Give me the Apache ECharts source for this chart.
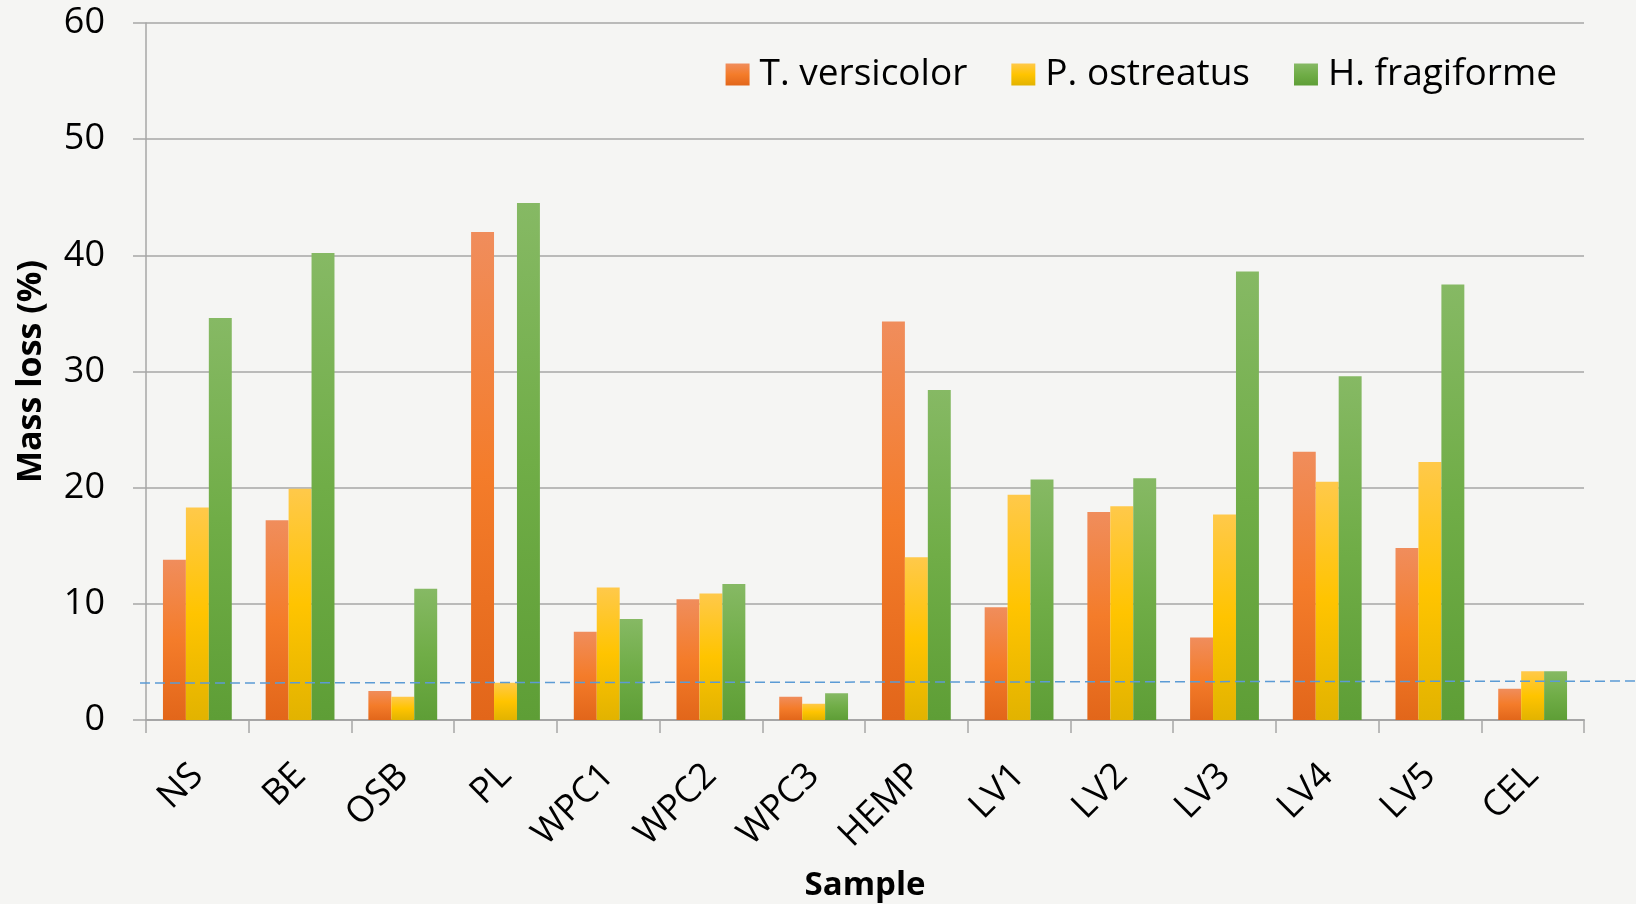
<!DOCTYPE html>
<html>
<head>
<meta charset="utf-8">
<title>Mass loss by sample</title>
<script src="https://cdn.jsdelivr.net/npm/echarts@6/dist/echarts.min.js"></script>
<style>
  html, body { margin: 0; padding: 0; background: #F5F5F3; }
  #chart { width: 1636px; height: 904px; }
</style>
</head>
<body>
<div id="chart"></div>
<script>
// Sample categories
const categories = ['NS', 'BE', 'OSB', 'PL', 'WPC1', 'WPC2', 'WPC3', 'HEMP', 'LV1', 'LV2', 'LV3', 'LV4', 'LV5', 'CEL'];

// Mass loss (%) per fungus
const tVersicolor = [13.8, 17.2, 2.5, 42.0, 7.6, 10.4, 2.0, 34.3, 9.7, 17.9, 7.1, 23.1, 14.8, 2.7];
const pOstreatus  = [18.3, 19.9, 2.0, 3.2, 11.4, 10.9, 1.4, 14.0, 19.4, 18.4, 17.7, 20.5, 22.2, 4.2];
const hFragiforme = [34.6, 40.2, 11.3, 44.5, 8.7, 11.7, 2.3, 28.4, 20.7, 20.8, 38.6, 29.6, 37.5, 4.2];

const seriesNames = ['T. versicolor', 'P. ostreatus', 'H. fragiforme'];

// Reference threshold (dashed line), value at its left and right ends
const thresholdLeft = 3.18;
const thresholdRight = 3.35;

const FONT = '"Open Sans", "Noto Sans", sans-serif';

function grad(top, mid, bottom) {
  return new echarts.graphic.LinearGradient(0, 0, 0, 1, [
    { offset: 0, color: top },
    { offset: 0.5, color: mid },
    { offset: 1, color: bottom }
  ]);
}

const fills = [
  grad('#F08D5C', '#F47C2A', '#E2661A'),
  grad('#FFC94A', '#FFC400', '#E2B300'),
  grad('#86B964', '#70AD47', '#5E9E36')
];

const chart = echarts.init(document.getElementById('chart'), null, { renderer: 'canvas' });

const dataSets = [tVersicolor, pOstreatus, hFragiforme];

chart.setOption({
  backgroundColor: '#F5F5F3',
  animation: false,
  textStyle: { fontFamily: FONT, color: '#000' },
  grid: { left: 146, right: 52, top: 23, bottom: 184, containLabel: false, outerBoundsMode: 'none' },
  legend: {
    data: seriesNames,
    right: 74,
    top: 51,
    itemWidth: 24,
    itemHeight: 22,
    itemGap: 44,
    icon: 'rect',
    textStyle: { fontFamily: FONT, fontSize: 37, color: '#000', padding: [0, 0, 0, 5] }
  },
  xAxis: {
    type: 'category',
    data: categories,
    name: 'Sample',
    nameLocation: 'middle',
    nameGap: 149,
    nameTextStyle: { fontFamily: FONT, fontSize: 33, fontWeight: 'bold', color: '#000' },
    axisLine: { show: true, lineStyle: { color: '#A6A6A6', width: 2 } },
    axisTick: { show: true, length: 13, lineStyle: { color: '#A6A6A6', width: 1.5 } },
    axisLabel: { rotate: 45, fontSize: 36, color: '#000', margin: 50, fontFamily: FONT, interval: 0 }
  },
  yAxis: {
    type: 'value',
    min: 0,
    max: 60,
    interval: 10,
    name: 'Mass loss (%)',
    nameLocation: 'middle',
    nameGap: 98,
    nameTextStyle: { fontFamily: FONT, fontSize: 34, fontWeight: 'bold', color: '#000' },
    axisLine: { show: true, lineStyle: { color: '#A6A6A6', width: 1.5 } },
    axisTick: { show: true, length: 13, lineStyle: { color: '#A6A6A6', width: 1.5 } },
    axisLabel: { fontSize: 36, color: '#000', margin: 41, fontFamily: FONT },
    splitLine: { show: true, lineStyle: { color: '#A6A6A6', width: 1.5 } }
  },
  series: seriesNames.map((name, i) => ({
    name: name,
    type: 'bar',
    data: dataSets[i],
    barGap: '0%',
    barCategoryGap: '33%',
    itemStyle: { color: fills[i] }
  }))
});

// Dashed threshold line running from the value axis to the right edge of the canvas
const yLeft = chart.convertToPixel({ yAxisIndex: 0 }, thresholdLeft);
const yRight = chart.convertToPixel({ yAxisIndex: 0 }, thresholdRight);
const bandHalf = (chart.convertToPixel({ xAxisIndex: 0 }, categories[1]) - chart.convertToPixel({ xAxisIndex: 0 }, categories[0])) / 2;
const xStart = chart.convertToPixel({ xAxisIndex: 0 }, categories[0]) - bandHalf;
chart.setOption({
  graphic: [{
    type: 'line',
    z: 100,
    shape: { x1: xStart - 6, y1: yLeft, x2: chart.getWidth(), y2: yRight },
    style: { stroke: '#5B9BD5', lineWidth: 1.5, lineDash: [10, 5] }
  }]
});
</script>
</body>
</html>
